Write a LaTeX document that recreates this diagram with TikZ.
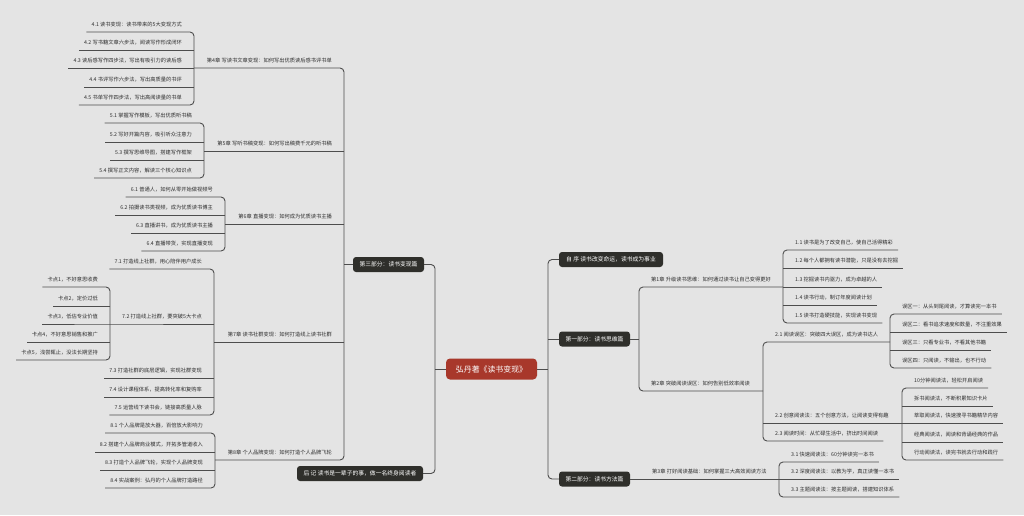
\documentclass[tikz,border=0pt]{standalone}
\usepackage{fontspec}
\newfontfamily\cjk{Noto Sans CJK SC}
\definecolor{bg}{HTML}{E4E4E4}
\definecolor{ln}{HTML}{4D4D4D}
\definecolor{tx}{HTML}{2E2E2E}
\definecolor{bx}{HTML}{2F2F2B}
\definecolor{rt}{HTML}{A8382B}
\tikzset{
 lbl/.style={font=\cjk\fontsize{5.25}{6}\selectfont, text=tx, inner sep=0pt},
 conn/.style={draw=ln, line width=0.9pt, rounded corners=4pt},
 partbox/.style={fill=bx, rounded corners=3pt, text=white, font=\cjk\fontsize{5.8}{7}\selectfont, minimum height=15pt, inner sep=0pt},
 rootbox/.style={fill=rt, rounded corners=4pt, text=white, font=\cjk\fontsize{7.9}{9}\selectfont, minimum height=21pt, minimum width=91pt, inner sep=0pt},
}
% right child: name, vertical x, underline y, text
\newcommand\RC[4]{\node[lbl,anchor=base west] (#1) at (#2+12,#3-6) {#4};
  \coordinate (#1u) at (#2,#3);
  \path (#1.east |- #1u) ++(5,0) coordinate (#1e);}
% left child
\newcommand\LC[4]{\node[lbl,anchor=base east] (#1) at (#2-12,#3-6) {#4};
  \coordinate (#1u) at (#2,#3);
  \path (#1.west |- #1u) ++(-5,0) coordinate (#1e);}
\begin{document}
\begin{tikzpicture}[x=1pt,y=-1pt]
\useasboundingbox[fill=bg] (0,0) rectangle (1024,515);

% ---------- root and parts ----------
\node[rootbox] (root) at (491.5,369) {弘丹著《读书变现》};
\node[partbox, minimum width=104pt] (ps) at (611,259.5) {自 序 读书改变命运，读书成为事业};
\node[partbox, minimum width=71pt] (p1) at (594.5,339) {第一部分：读书思维篇};
\node[partbox, minimum width=71pt] (p2) at (594.5,479) {第二部分：读书方法篇};
\node[partbox, minimum width=71pt] (p3) at (388.5,264.5) {第三部分：读书变现篇};
\node[partbox, minimum width=126pt] (ph) at (360,473.5) {后 记 读书是一辈子的事，做一名终身阅读者};

\coordinate (rt1) at (548,259.5);
\coordinate (rt2) at (548,479);
\coordinate (rtm) at (548,369);
\coordinate (rt3) at (548,339);
\draw[conn] (ps.west) -- (rt1) -- (rt2) -- (p2.west);
\draw[conn] (root.east) -- (rtm);
\draw[conn] (rt3) -- (p1.west);

\coordinate (lt1) at (435,264.5);
\coordinate (lt2) at (435,473.5);
\coordinate (ltm) at (435,369);
\draw[conn] (p3.east) -- (lt1) -- (lt2) -- (ph.east);
\draw[conn] (root.west) -- (ltm);

% ---------- right: part 1 ----------
\RC{c1}{639}{287}{第1章 升级读书思维：如何通过读书让自己变得更好}
\RC{c2}{639}{391}{第2章 突破阅读误区：如何告别低效率阅读}
\coordinate (p1j) at (639,339);
\coordinate (v2m) at (763,391);
\draw[conn] (p1.east) -- (p1j);

\RC{s11}{783}{250}{1.1 读书是为了改变自己，使自己活得精彩}
\RC{s12}{783}{268}{1.2 每个人都拥有读书潜能，只是没有去挖掘}
\RC{s13}{783}{287}{1.3 挖掘读书内驱力，成为卓越的人}
\RC{s14}{783}{305}{1.4 读书行动，制订年度阅读计划}
\RC{s15}{783}{323}{1.5 读书打造硬技能，实现读书变现}
\draw[conn] (s13u) -- (c1u) -- (c2u) -- (v2m);
\draw[conn] (s11e) -- (s11u) -- (s15u) -- (s15e);
\draw[conn] (s12u) -- (s12e);
\draw[conn] (s13u) -- (s13e);
\draw[conn] (s14u) -- (s14e);

\RC{s21}{763}{342}{2.1 阅读误区：突破四大误区，成为读书达人}
\RC{s22}{763}{423}{2.2 创意阅读法：五个创意方法，让阅读变得有趣}
\RC{s23}{763}{441}{2.3 阅读时间：从忙碌生活中，挤出时间阅读}
\coordinate (wj) at (890,342);
\draw[conn] (wj) -- (s21u) -- (s23u) -- (s23e);

\RC{w1}{890}{314}{误区一：从头到尾阅读，才算读完一本书}
\RC{w2}{890}{332}{误区二：看书追求速度和数量，不注重效果}
\RC{w3}{890}{350}{误区三：只看专业书，不看其他书籍}
\RC{w4}{890}{368}{误区四：只阅读，不输出，也不行动}
\draw[conn] (w1e) -- (w1u) -- (w4u) -- (w4e);
\draw[conn] (w2u) -- (w2e);
\draw[conn] (w3u) -- (w3e);

\RC{m1}{902}{388}{10分钟阅读法，轻松开启阅读}
\RC{m2}{902}{406}{拆书阅读法，不断积累知识卡片}
\RC{m3}{902}{423}{萃取阅读法，快速搜寻书籍精华内容}
\RC{m4}{902}{442}{经典阅读法，阅读和背诵经典的作品}
\RC{m5}{902}{460}{行动阅读法，读完书就去行动和践行}
\draw[conn] (m1e) -- (m1u) -- (m5u) -- (m5e);
\draw[conn] (s22u) -- (m3u) -- (m3e);
\draw[conn] (m2u) -- (m2e);
\draw[conn] (m4u) -- (m4e);

% ---------- right: part 2 ----------
\RC{c3}{640}{479}{第3章 打好阅读基础：如何掌握三大高效阅读方法}
\RC{s31}{779}{462}{3.1 快速阅读法：60分钟读完一本书}
\RC{s32}{779}{479}{3.2 深度阅读法：以教为学，真正读懂一本书}
\RC{s33}{779}{497}{3.3 主题阅读法：按主题阅读，搭建知识体系}
\draw[conn] (p2.east) -- (s32u) -- (s32e);
\draw[conn] (s31e) -- (s31u) -- (s33u) -- (s33e);

% ---------- left: part 3 ----------
\LC{c4}{344}{68}{第4章 写读书文章变现：如何写出优质读后感书评书单}
\LC{c5}{344}{151}{第5章 写听书稿变现：如何写出稿费千元的听书稿}
\LC{c6}{344}{224}{第6章 直播变现：如何成为优质读书主播}
\LC{c7}{344}{342}{第7章 读书社群变现：如何打造线上读书社群}
\LC{c8}{344}{460}{第8章 个人品牌变现：如何打造个人品牌飞轮}
\coordinate (p3j) at (344,264.5);
\coordinate (v5m) at (204,151);
\coordinate (v6m) at (225,224);
\coordinate (v7m) at (214,342);
\coordinate (v8m) at (215,460);
\draw[conn] (p3.west) -- (p3j);

\LC{t41}{194}{32}{4.1 读书变现：读书带来的5大变现方式}
\LC{t42}{194}{50}{4.2 写书籍文章六步法，阅读写作形成闭环}
\LC{t43}{194}{68}{4.3 读后感写作四步法，写出有吸引力的读后感}
\LC{t44}{194}{87}{4.4 书评写作六步法，写出高质量的书评}
\LC{t45}{194}{105}{4.5 书单写作四步法，写出高阅读量的书单}
\draw[conn] (t43u) -- (c4u) -- (c8u) -- (v8m);
\draw[conn] (c5u) -- (v5m);
\draw[conn] (c6u) -- (v6m);
\draw[conn] (c7u) -- (v7m);
\draw[conn] (t41e) -- (t41u) -- (t45u) -- (t45e);
\draw[conn] (t42u) -- (t42e);
\draw[conn] (t43u) -- (t43e);
\draw[conn] (t44u) -- (t44e);

\LC{t51}{204}{123}{5.1 掌握写作模板，写出优质听书稿}
\LC{t52}{204}{142}{5.2 写好开篇内容，吸引听众注意力}
\LC{t53}{204}{160}{5.3 撰写思维导图，搭建写作框架}
\LC{t54}{204}{178}{5.4 撰写正文内容，解读三个核心知识点}
\draw[conn] (t51e) -- (t51u) -- (t54u) -- (t54e);
\draw[conn] (t52u) -- (t52e);
\draw[conn] (t53u) -- (t53e);

\LC{t61}{225}{197}{6.1 普通人，如何从零开始做视频号}
\LC{t62}{225}{215}{6.2 拍摄读书类视频，成为优质读书博主}
\LC{t63}{225}{233}{6.3 直播讲书，成为优质读书主播}
\LC{t64}{225}{251}{6.4 直播带货，实现直播变现}
\draw[conn] (t61e) -- (t61u) -- (t64u) -- (t64e);
\draw[conn] (t62u) -- (t62e);
\draw[conn] (t63u) -- (t63e);

\LC{t71}{214}{269}{7.1 打造线上社群，用心陪伴用户成长}
\LC{t72}{214}{324}{7.2 打造线上社群，要突破5大卡点}
\LC{t73}{214}{378}{7.3 打造社群的底层逻辑，实现社群变现}
\LC{t74}{214}{397}{7.4 设计课程体系，提高转化率和复购率}
\LC{t75}{214}{415}{7.5 运营线下读书会，链接高质量人脉}
\draw[conn] (t71e) -- (t71u) -- (t75u) -- (t75e);
\draw[conn] (t73u) -- (t73e);
\draw[conn] (t74u) -- (t74e);

\LC{k1}{110}{287}{卡点1，不好意思收费}
\LC{k2}{110}{306}{卡点2，定价过低}
\LC{k3}{110}{324}{卡点3，低估专业价值}
\LC{k4}{110}{342}{卡点4，不好意思销售和推广}
\LC{k5}{110}{360}{卡点5，浅尝辄止，没法长期坚持}
\draw[conn] (t72u) -- (k3u) -- (k3e);
\draw[conn] (k1e) -- (k1u) -- (k5u) -- (k5e);
\draw[conn] (k2u) -- (k2e);
\draw[conn] (k4u) -- (k4e);

\LC{t81}{215}{433}{8.1 个人品牌是放大器，百倍放大影响力}
\LC{t82}{215}{452}{8.2 搭建个人品牌商业模式，开拓多管道收入}
\LC{t83}{215}{470}{8.3 打造个人品牌飞轮，实现个人品牌变现}
\LC{t84}{215}{488}{8.4 实战案例：弘丹的个人品牌打造路径}
\draw[conn] (t81e) -- (t81u) -- (t84u) -- (t84e);
\draw[conn] (t82u) -- (t82e);
\draw[conn] (t83u) -- (t83e);
\end{tikzpicture}
\end{document}
